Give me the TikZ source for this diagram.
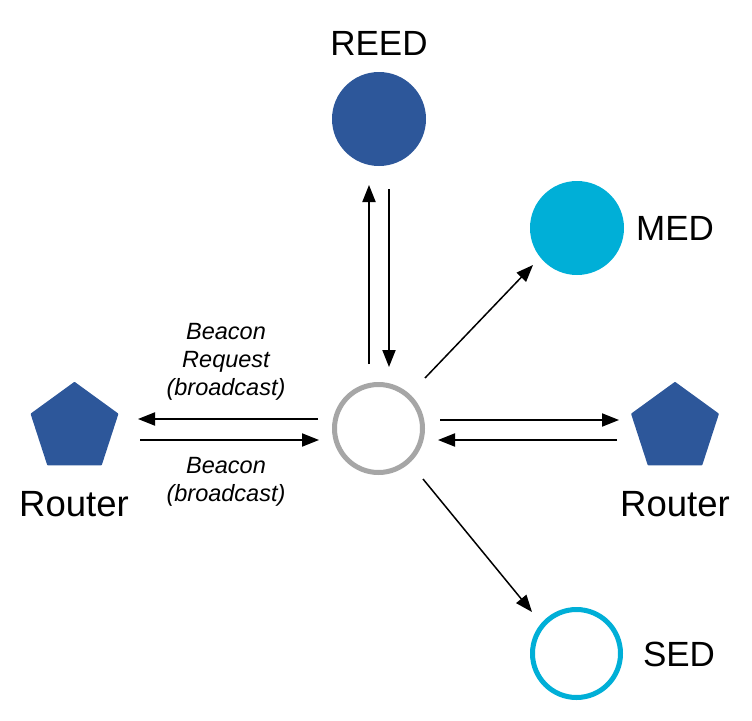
\documentclass[tikz,border=0pt]{standalone}
\usepackage{fontspec}
\setmainfont{Liberation Sans}
\usetikzlibrary{shapes.geometric,arrows.meta}
\definecolor{darkblue}{HTML}{2D579A}
\definecolor{cyanblue}{HTML}{00AFD7}
\definecolor{ringgray}{HTML}{A6A6A6}
\tikzset{
  fullnode/.style={circle,fill=#1,draw=none,minimum size=94pt,inner sep=0pt,outer sep=0pt},
  ringnode/.style={circle,draw=#1,line width=5pt,fill=white,minimum size=88pt,inner sep=0pt,outer sep=0pt},
  routernode/.style={regular polygon,regular polygon sides=5,fill=darkblue,draw=darkblue,line width=2pt,line join=round,minimum size=90pt,inner sep=0pt,outer sep=0pt},
  biglabel/.style={font=\fontsize{35}{40}\selectfont,inner sep=0pt},
  routerlabel/.style={font=\fontsize{36.5}{40}\selectfont,inner sep=0pt},
  msglabel/.style={font=\fontsize{23.5}{28}\selectfont\itshape,align=center,inner sep=0pt},
  arr/.style={-{Triangle[length=17pt,width=13pt]},line width=1.9pt},
  diag/.style={-{Triangle[length=17pt,width=13pt]},line width=1.5pt},
}
\begin{document}
\begin{tikzpicture}[x=1pt,y=-1pt]
\useasboundingbox (0,0) rectangle (752,720);
% nodes
\node[ringnode=ringgray] (c) at (378.5,428.5) {};
\node[fullnode=darkblue] (reed) at (379,119) {};
\node[fullnode=cyanblue] (med) at (577,228) {};
\node[ringnode=cyanblue] (sed) at (576.5,653.5) {};
\node[routernode] (rl) at (74.5,428) {};
\node[routernode] (rr) at (675,428) {};
% labels
\node[biglabel] (reedlbl) at (379,43) {REED};
\node[biglabel] (medlbl) at (675,228) {MED};
\node[biglabel] (sedlbl) at (679,654) {SED};
\node[routerlabel] (rllbl) at (74,504) {Router};
\node[routerlabel] (rrlbl) at (675,504) {Router};
\node[msglabel] (req) at (226,362) {Beacon\\Request\\(broadcast)};
\node[msglabel] (bcn) at (226,482) {Beacon\\(broadcast)};
% connectors
\draw[arr] ([shift={(-60.5,-9.5)}]c.center) -- ([shift={(63.5,-9)}]rl.center);
\draw[arr] ([shift={(65.5,12)}]rl.center) -- ([shift={(-59.5,11.5)}]c.center);
\draw[arr] ([shift={(61.5,-8.5)}]c.center) -- ([shift={(-56,-8)}]rr.center);
\draw[arr] ([shift={(-58,12)}]rr.center) -- ([shift={(59.5,11.5)}]c.center);
\draw[arr] ([shift={(-9.5,-64.5)}]c.center) -- ([shift={(-10,66)}]reed.center);
\draw[arr] ([shift={(10,70)}]reed.center) -- ([shift={(10.5,-61.5)}]c.center);
\draw[diag] ([shift={(46.5,-50.5)}]c.center) -- ([shift={(-44,37)}]med.center);
\draw[diag] ([shift={(44.5,50.5)}]c.center) -- ([shift={(-44.5,-41.5)}]sed.center);
\end{tikzpicture}
\end{document}
